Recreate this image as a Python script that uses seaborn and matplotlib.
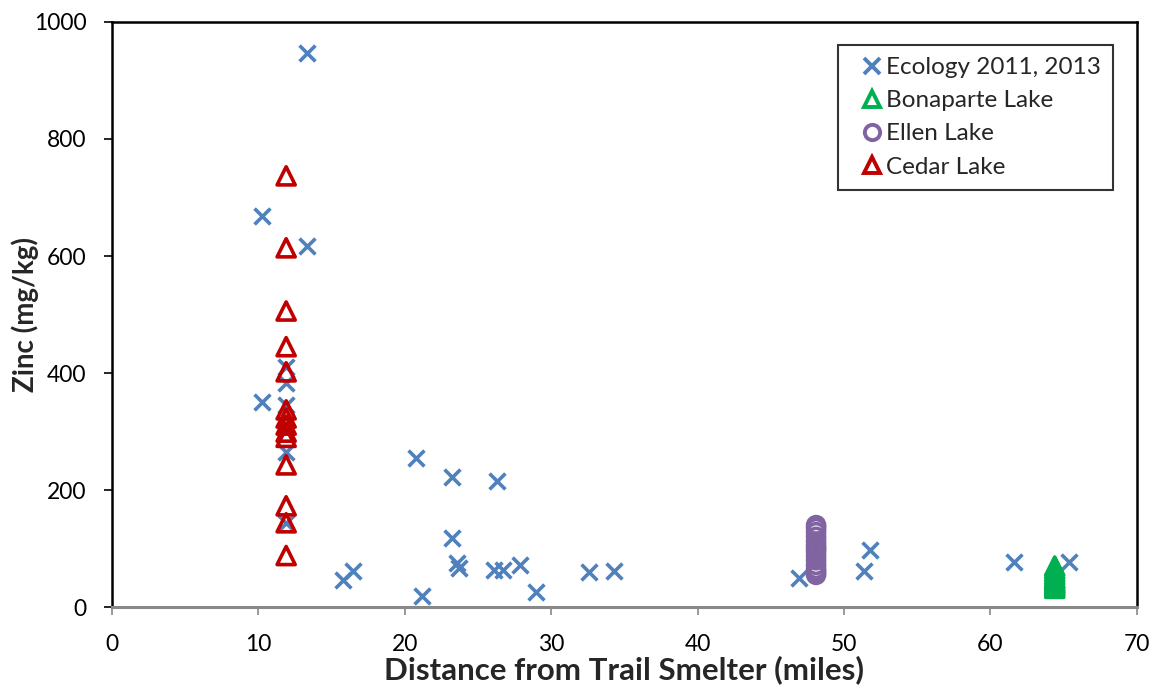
import matplotlib
matplotlib.use("Agg")
import matplotlib.pyplot as plt
from matplotlib.lines import Line2D
import seaborn as sns
import pandas as pd

# Ecology 2011, 2013 sampling
eco_dist = [10.25, 13.3, 13.3, 10.25, 11.9, 11.9, 11.9, 11.9, 11.9,
            20.8, 21.2, 23.2, 23.2, 23.6, 23.7, 26.3, 26.1, 26.7, 27.9, 29.0,
            15.8, 16.5, 32.6, 34.3, 46.9, 51.4, 51.8, 61.6, 65.4]
eco_zinc = [668, 947, 617, 350, 410, 383, 345, 265, 143,
            255, 19, 222, 118, 75, 67, 215, 63, 63, 72, 26,
            46, 62, 60, 62, 50, 62, 97, 77, 77]

# Bonaparte Lake core
bon_dist = [64.4] * 12
bon_zinc = [32, 35, 38, 40, 42, 45, 48, 50, 55, 60, 65, 70]

# Ellen Lake core
ellen_dist = [48.1] * 14
ellen_zinc = [55, 60, 65, 72, 80, 88, 95, 100, 105, 112, 120, 128, 135, 140]

# Cedar Lake core
cedar_dist = [11.9] * 14
cedar_zinc = [737, 614, 506, 445, 402, 337, 323, 311, 299, 290, 243, 173, 144, 88]

BLUE = "#4F81BD"
GREEN = "#00B050"
PURPLE = "#8064A2"
RED = "#C00000"

sns.set_theme(style="white")
plt.rcParams["font.family"] = ["Lato", "DejaVu Sans"]

fig = plt.figure(figsize=(11.54, 6.87), dpi=100)
ax = fig.add_axes([0.097, 0.1164, 0.888, 0.8516])

eco = pd.DataFrame({"dist": eco_dist, "zinc": eco_zinc})
bon = pd.DataFrame({"dist": bon_dist, "zinc": bon_zinc})
ell = pd.DataFrame({"dist": ellen_dist, "zinc": ellen_zinc})
ced = pd.DataFrame({"dist": cedar_dist, "zinc": cedar_zinc})

sns.scatterplot(data=eco, x="dist", y="zinc", marker="x", s=130,
                color=BLUE, linewidth=2.6, ax=ax, zorder=3)
sns.scatterplot(data=bon, x="dist", y="zinc", marker="^", s=170,
                facecolors="none", edgecolor=GREEN, linewidth=2.6, ax=ax, zorder=4)
sns.scatterplot(data=ell, x="dist", y="zinc", marker="o", s=150,
                facecolors="none", edgecolor=PURPLE, linewidth=2.6, ax=ax, zorder=4)
sns.scatterplot(data=ced, x="dist", y="zinc", marker="^", s=170,
                facecolors="none", edgecolor=RED, linewidth=2.6, ax=ax, zorder=5)

ax.set_xlim(0, 70)
ax.set_ylim(0, 1000)
ax.set_xticks(range(0, 71, 10))
ax.set_yticks(range(0, 1001, 200))
ax.tick_params(axis="both", labelsize=16.5, length=5.5, width=1.2, direction="out",
               colors="black", bottom=True, left=True, pad=13)
ax.tick_params(axis="x", color="#888888", pad=14)

for side in ["left", "top", "right"]:
    ax.spines[side].set_color("black")
    ax.spines[side].set_linewidth(1.8)
ax.spines["bottom"].set_color("#888888")
ax.spines["bottom"].set_linewidth(2.2)

ax.set_xlabel("Distance from Trail Smelter (miles)", fontsize=22.5,
              fontweight="bold", labelpad=0)
ax.set_ylabel("Zinc (mg/kg)", fontsize=20, fontweight="bold", labelpad=-4)

handles = [
    Line2D([], [], linestyle="none", marker="x", markersize=11,
           markeredgewidth=2.8, color=BLUE),
    Line2D([], [], linestyle="none", marker="^", markersize=11,
           markerfacecolor="none", markeredgewidth=2.8, markeredgecolor=GREEN),
    Line2D([], [], linestyle="none", marker="o", markersize=11,
           markerfacecolor="none", markeredgewidth=2.8, markeredgecolor=PURPLE),
    Line2D([], [], linestyle="none", marker="^", markersize=11,
           markerfacecolor="none", markeredgewidth=2.8, markeredgecolor=RED),
]
labels = ["Ecology 2011, 2013", "Bonaparte Lake", "Ellen Lake", "Cedar Lake"]
leg = ax.legend(handles, labels, loc="upper right", bbox_to_anchor=(0.9766, 0.9607),
                borderaxespad=0, fontsize=17.5, frameon=True, fancybox=False,
                handlelength=1.8, handletextpad=-0.35, borderpad=0.5,
                labelspacing=0.5)
leg.get_frame().set_edgecolor("black")
leg.get_frame().set_linewidth(1.5)

fig.savefig("out.png", dpi=100)
